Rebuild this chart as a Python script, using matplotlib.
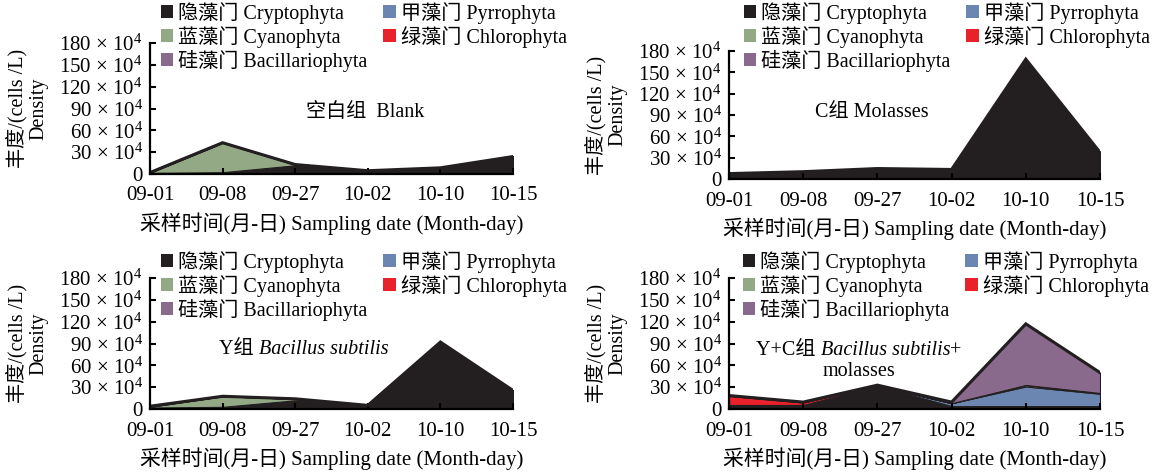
import numpy as np
import matplotlib
matplotlib.use("Agg")
import matplotlib.pyplot as plt
from matplotlib.patches import Patch
from matplotlib.offsetbox import TextArea, HPacker, VPacker, AnnotationBbox

plt.rcParams['font.family'] = ['Liberation Serif', 'Noto Sans CJK SC']
plt.rcParams['mathtext.fontset'] = 'custom'
plt.rcParams['mathtext.rm'] = 'Liberation Serif'
plt.rcParams['mathtext.it'] = 'Liberation Serif:italic'

# 采样日期
dates = ['09-01', '09-08', '09-27', '10-02', '10-10', '10-15']
yticks = [0, 30, 60, 90, 120, 150, 180]

phyla = ['隐藻门 Cryptophyta', '甲藻门 Pyrrophyta', '蓝藻门 Cyanophyta',
         '绿藻门 Chlorophyta', '硅藻门 Bacillariophyta']
colors = ['#231f20', '#6b86b0', '#93a985', '#e8212b', '#8a6a8c']

# 丰度 (×10^4 cells/L)，顺序与 phyla 相同
blank_crypto = [1.5, 2.5, 12, 4.5, 8.5, 24]
blank_pyrro = [0, 0, 0, 0, 0, 0]
blank_cyano = [0.5, 40.5, 1, 0, 0, 0]
blank_chloro = [0, 0, 0, 0, 0, 0]
blank_bac = [0, 0, 0, 0, 0, 0]

c_crypto = [7, 9.5, 13.5, 12.5, 168, 37.5]
c_pyrro = [0, 0, 0.6, 0.3, 0, 0]
c_cyano = [0.6, 0, 0, 0, 0, 0]
c_chloro = [0, 0.8, 0, 0, 0, 0]
c_bac = [0, 0, 0.6, 0.6, 0.5, 0]

y_crypto = [2, 3, 12, 5, 92, 25.5]
y_pyrro = [0, 0, 0, 0, 0, 0]
y_cyano = [1, 14.5, 2, 0, 0, 0]
y_chloro = [0.8, 0, 0, 0, 0, 0]
y_bac = [0, 0, 0, 0, 0, 0]

yc_crypto = [5.5, 5.5, 32, 4, 4, 4]
yc_pyrro = [0, 0, 0.3, 4, 27, 17]
yc_cyano = [0, 0, 0, 0, 2, 1]
yc_chloro = [12.5, 3.5, 0, 0, 0, 0]
yc_bac = [0.5, 0.5, 0.5, 1.5, 84, 28]

groups = [
    [blank_crypto, blank_pyrro, blank_cyano, blank_chloro, blank_bac],
    [c_crypto, c_pyrro, c_cyano, c_chloro, c_bac],
    [y_crypto, y_pyrro, y_cyano, y_chloro, y_bac],
    [yc_crypto, yc_pyrro, yc_cyano, yc_chloro, yc_bac],
]

W, H = 1161, 472
fig = plt.figure(figsize=(W / 100, H / 100), dpi=100)

# 各子图位置 (像素): 左, 上, 右, 下
boxes = [(150, 43, 513, 174), (729, 51, 1100, 179),
         (150, 278, 513, 409), (729, 278, 1100, 409)]
legend_at = [(161, 2), (744, 2), (161, 251), (743, 251)]

FS = 14.5
TFS = 15


def make_label(ax, parts, xy, second=None):
    row = HPacker(children=[TextArea(t, textprops=dict(fontsize=FS, style=s,
                                                        family=['Liberation Serif', 'Noto Sans CJK SC']))
                            for t, s in parts], align='baseline', pad=0, sep=0)
    box = row
    if second is not None:
        box = VPacker(children=[row, TextArea(second, textprops=dict(fontsize=FS))],
                      align='center', pad=0, sep=1)
    ab = AnnotationBbox(box, xy, xycoords='data', frameon=False, box_alignment=(0.5, 0.5))
    ax.add_artist(ab)


labels_in = [
    ([('空白组  Blank', 'normal')], (2.96, 84), None),
    ([('C组 Molasses', 'normal')], (1.93, 94), None),
    ([('Y组 ', 'normal'), ('Bacillus subtilis', 'italic')], (2.12, 82), None),
    ([('Y+C组 ', 'normal'), ('Bacillus subtilis', 'italic'), ('+', 'normal')], (1.75, 66), 'molasses'),
]

x = np.arange(len(dates))
for i, (l, t, r, b) in enumerate(boxes):
    ax = fig.add_axes([l / W, 1 - b / H, (r - l) / W, (b - t) / H])
    data = np.array(groups[i], dtype=float)
    base = np.zeros(len(dates))
    for k in range(len(phyla)):
        top = base + data[k]
        ax.fill_between(x, base, top, facecolor=colors[k], edgecolor='#231f20', linewidth=0.8)
        base = top
    ax.plot(x, base, color='#231f20', lw=2.2, solid_joinstyle='miter')

    ax.set_xlim(0, 5)
    ax.set_ylim(0, 180)
    ax.set_xticks(x)
    ax.set_xticklabels(dates, fontsize=TFS)
    ax.set_yticks(yticks)
    ax.set_yticklabels(['0' if v == 0 else f'{v} × 10$^4$' for v in yticks], fontsize=TFS)
    ax.tick_params(direction='in', length=4, width=1.5)
    ax.tick_params(axis='x', pad=9)
    ax.tick_params(axis='y', pad=5)
    for s in ['top', 'right']:
        ax.spines[s].set_visible(False)
    for s in ['left', 'bottom']:
        ax.spines[s].set_linewidth(1.6)
    ax.patch.set_alpha(0)

    ax.set_xlabel('采样时间(月-日) Sampling date (Month-day)', fontsize=15, labelpad=5)
    ax.text(-123 / (r - l), 0.5, '丰度/(cells /L)\nDensity', transform=ax.transAxes,
            rotation=90, ha='center', va='center', fontsize=FS, linespacing=1.1,
            multialignment='center')

    parts, xy, second = labels_in[i]
    make_label(ax, parts, xy, second)

    order = [0, 2, 4, 1, 3]
    handles = [Patch(facecolor=colors[k]) for k in order]
    lx, ly = legend_at[i]
    ax.legend(handles, [phyla[k] for k in order], loc='upper left',
              bbox_to_anchor=(lx / W, 1 - ly / H), bbox_transform=fig.transFigure,
              ncol=2, frameon=False, fontsize=FS, handlelength=0.6, handleheight=0.6,
              handletextpad=0.25, columnspacing=0.8, labelspacing=0.1,
              borderpad=0, borderaxespad=0)

fig.savefig('out.png', dpi=100)
